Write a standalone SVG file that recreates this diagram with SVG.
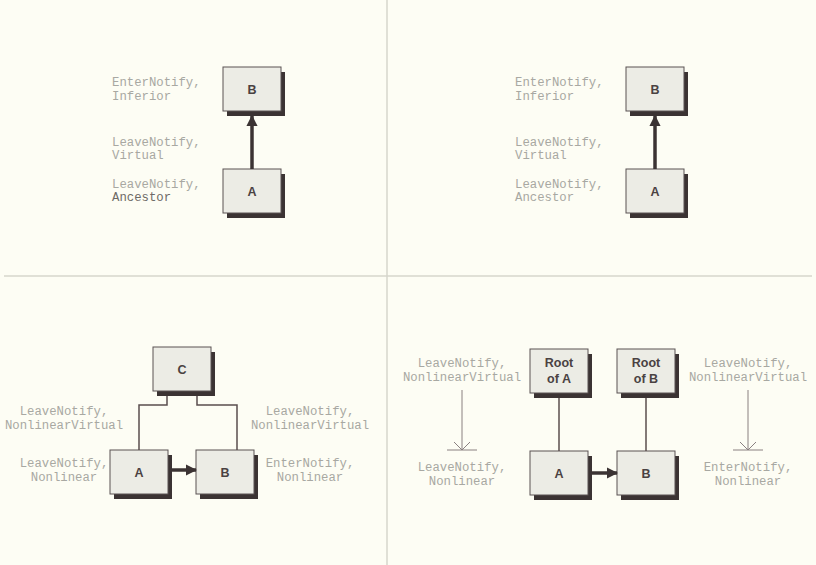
<svg xmlns="http://www.w3.org/2000/svg" width="816" height="565" viewBox="0 0 816 565">
  <style>
    .bg { fill: #fdfdf4; }
    .divider { stroke: #d6d6cc; stroke-width: 1.5; fill: none; }
    .shadow { fill: #3b3333; }
    .box { fill: #ececE5; stroke: #5a5252; stroke-width: 1; }
    .boxlabel { font-family: "Liberation Sans", Arial, sans-serif; font-weight: bold; font-size: 12.5px; fill: #4a4242; text-anchor: middle; }
    .note { font-family: "Liberation Mono", "Courier New", monospace; font-size: 12.3px; fill: #a8a8a2; }
    .note.mid { text-anchor: middle; }
    .note.dark { fill: #6e6a66; }
    .thick { stroke: #3b3333; stroke-width: 3.5; fill: none; }
    .thin { stroke: #5a4e4e; stroke-width: 1.5; fill: none; }
    .pointer { stroke: #8a8080; stroke-width: 1; fill: none; }
  </style>
  <defs>
    <marker id="head" viewBox="0 0 10 10" refX="9" refY="5" markerWidth="3.2" markerHeight="3.2" orient="auto" markerUnits="strokeWidth">
      <path d="M0,0 L10,5 L0,10 z" fill="#3b3333"/>
    </marker>
  </defs>

  <rect class="bg" x="0" y="0" width="816" height="565"/>

  <!-- quadrant dividers -->
  <g id="dividers">
    <line class="divider" x1="387" y1="0" x2="387" y2="565"/>
    <line class="divider" x1="4" y1="276" x2="812" y2="276"/>
  </g>

  <!-- top-left: A to B (child) -->
  <g id="tl-B">
    <rect class="shadow" x="227" y="72" width="58" height="44"/>
    <rect class="box" x="223" y="67" width="58" height="44"/>
    <text class="boxlabel" x="252" y="94">B</text>
  </g>
  <g id="tl-A">
    <rect class="shadow" x="227" y="174" width="58" height="44"/>
    <rect class="box" x="223" y="169" width="58" height="44"/>
    <text class="boxlabel" x="252" y="196">A</text>
  </g>
  <g id="tl-notes">
    <text class="note" x="112" y="86">EnterNotify,</text>
    <text class="note" x="112" y="100">Inferior</text>
    <text class="note" x="112" y="146">LeaveNotify,</text>
    <text class="note" x="112" y="159">Virtual</text>
    <text class="note" x="112" y="188">LeaveNotify,</text>
    <text class="note dark" x="112" y="201">Ancestor</text>
  </g>

  <!-- top-right: A to B (child) -->
  <g id="tr-B">
    <rect class="shadow" x="630" y="72" width="58" height="44"/>
    <rect class="box" x="626" y="67" width="58" height="44"/>
    <text class="boxlabel" x="655" y="94">B</text>
  </g>
  <g id="tr-A">
    <rect class="shadow" x="630" y="174" width="58" height="44"/>
    <rect class="box" x="626" y="169" width="58" height="44"/>
    <text class="boxlabel" x="655" y="196">A</text>
  </g>
  <g id="tr-notes">
    <text class="note" x="515" y="86">EnterNotify,</text>
    <text class="note" x="515" y="100">Inferior</text>
    <text class="note" x="515" y="146">LeaveNotify,</text>
    <text class="note" x="515" y="159">Virtual</text>
    <text class="note" x="515" y="188">LeaveNotify,</text>
    <text class="note" x="515" y="201">Ancestor</text>
  </g>

  <!-- bottom-left: siblings under C -->
  <g id="bl-C">
    <rect class="shadow" x="157" y="352" width="58" height="44"/>
    <rect class="box" x="153" y="347" width="58" height="44"/>
    <text class="boxlabel" x="182" y="374">C</text>
  </g>
  <g id="bl-A">
    <rect class="shadow" x="114" y="455" width="58" height="44"/>
    <rect class="box" x="110" y="450" width="58" height="44"/>
    <text class="boxlabel" x="139" y="477">A</text>
  </g>
  <g id="bl-B">
    <rect class="shadow" x="200" y="455" width="58" height="44"/>
    <rect class="box" x="196" y="450" width="58" height="44"/>
    <text class="boxlabel" x="225" y="477">B</text>
  </g>
  <g id="bl-notes">
    <text class="note mid" x="64" y="415">LeaveNotify,</text>
    <text class="note mid" x="64" y="429">NonlinearVirtual</text>
    <text class="note mid" x="64" y="467">LeaveNotify,</text>
    <text class="note mid" x="64" y="481">Nonlinear</text>
    <text class="note mid" x="310" y="415">LeaveNotify,</text>
    <text class="note mid" x="310" y="429">NonlinearVirtual</text>
    <text class="note mid" x="310" y="467">EnterNotify,</text>
    <text class="note mid" x="310" y="481">Nonlinear</text>
  </g>

  <!-- bottom-right: separate roots -->
  <g id="br-rootA">
    <rect class="shadow" x="534" y="354" width="58" height="44"/>
    <rect class="box" x="530" y="349" width="58" height="44"/>
    <text class="boxlabel" x="559" y="367">Root</text>
    <text class="boxlabel" x="559" y="383">of A</text>
  </g>
  <g id="br-rootB">
    <rect class="shadow" x="621" y="354" width="58" height="44"/>
    <rect class="box" x="617" y="349" width="58" height="44"/>
    <text class="boxlabel" x="646" y="367">Root</text>
    <text class="boxlabel" x="646" y="383">of B</text>
  </g>
  <g id="br-A">
    <rect class="shadow" x="534" y="456" width="58" height="44"/>
    <rect class="box" x="530" y="451" width="58" height="44"/>
    <text class="boxlabel" x="559" y="478">A</text>
  </g>
  <g id="br-B">
    <rect class="shadow" x="621" y="456" width="58" height="44"/>
    <rect class="box" x="617" y="451" width="58" height="44"/>
    <text class="boxlabel" x="646" y="478">B</text>
  </g>
  <g id="br-notes">
    <text class="note mid" x="462" y="367">LeaveNotify,</text>
    <text class="note mid" x="462" y="381">NonlinearVirtual</text>
    <text class="note mid" x="462" y="471">LeaveNotify,</text>
    <text class="note mid" x="462" y="485">Nonlinear</text>
    <text class="note mid" x="748" y="367">LeaveNotify,</text>
    <text class="note mid" x="748" y="381">NonlinearVirtual</text>
    <text class="note mid" x="748" y="471">EnterNotify,</text>
    <text class="note mid" x="748" y="485">Nonlinear</text>
  </g>

  <!-- connectors -->
  <g id="connectors">
    <line class="thick" x1="252" y1="169" x2="252" y2="116" marker-end="url(#head)"/>
    <line class="thick" x1="655" y1="169" x2="655" y2="116" marker-end="url(#head)"/>

    <polyline class="thin" points="167,396 167,405 139,405 139,450"/>
    <polyline class="thin" points="197,396 197,405 237,405 237,450"/>
    <line class="thick" x1="172" y1="470" x2="196" y2="470" marker-end="url(#head)"/>

    <line class="thin" x1="559" y1="398" x2="559" y2="451"/>
    <line class="thin" x1="646" y1="398" x2="646" y2="451"/>
    <line class="thick" x1="592" y1="473" x2="617" y2="473" marker-end="url(#head)"/>

    <path class="pointer" d="M462,390 V450 M454,442 L462,450 L470,442 M447,450 H477"/>
    <path class="pointer" d="M748,390 V450 M740,442 L748,450 L756,442 M733,450 H763"/>
  </g>
</svg>
